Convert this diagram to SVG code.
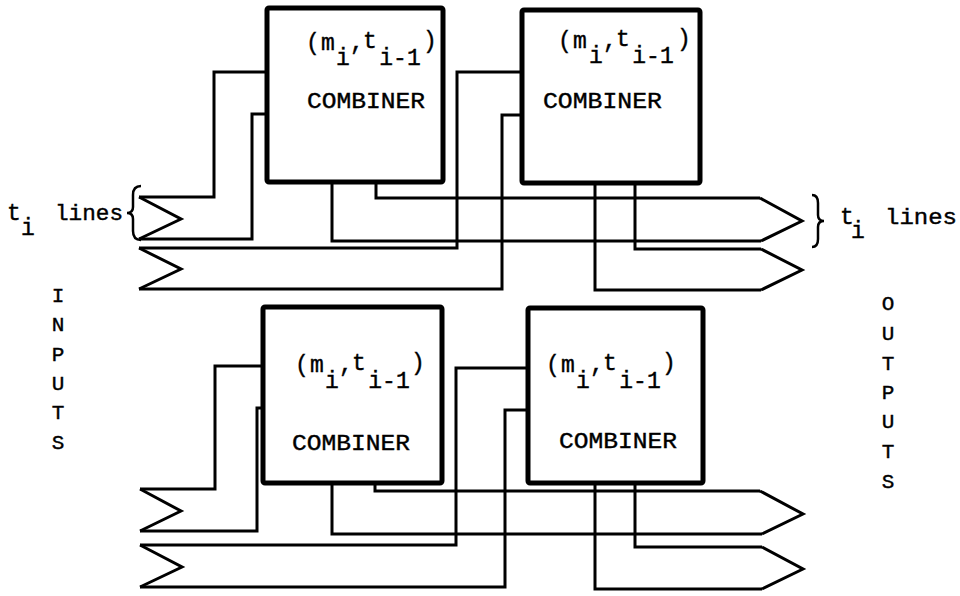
<svg xmlns="http://www.w3.org/2000/svg" width="960" height="596" viewBox="0 0 960 596">
<style>
.box{fill:#fff;stroke:#000;stroke-width:5;stroke-linejoin:round}
.ln{fill:none;stroke:#000;stroke-width:3;stroke-linejoin:miter}
.br{fill:none;stroke:#000;stroke-width:2.5}
text{font-family:"Liberation Mono","DejaVu Sans Mono",monospace;fill:#000;stroke:#000;stroke-width:0.4}
.lbl{font-size:23px;text-anchor:middle}
.cmb{font-size:22px}
.v{font-size:21px;text-anchor:middle}
</style>
<rect width="960" height="596" fill="#fff"/>
<g id="connectors">
<path class="ln" d="M139,197 H214 V72 H267"/>
<path class="ln" d="M139,239 H252 V114 H267"/>
<path class="ln" d="M139,248 H457 V72 H522"/>
<path class="ln" d="M139,289 H502 V115 H522"/>
<path class="ln" d="M376,182 V198 H760"/>
<path class="ln" d="M332,182 V241 H761"/>
<path class="ln" d="M635,183 V249 H761"/>
<path class="ln" d="M595,183 V290 H761"/>
<path class="ln" d="M140,489 H215 V366 H263"/>
<path class="ln" d="M140,531 H257 V408 H263"/>
<path class="ln" d="M140,545 H456 V368 H528"/>
<path class="ln" d="M140,587 H505 V410 H528"/>
<path class="ln" d="M375,483 V491 H760"/>
<path class="ln" d="M332,483 V534 H762"/>
<path class="ln" d="M635,483 V547 H762"/>
<path class="ln" d="M595,483 V589 H762"/>
</g>
<g id="input-bus-1"><path class="ln" d="M139,197 L181,219 L139,239"/></g>
<g id="input-bus-2"><path class="ln" d="M139,248 L181,269 L139,289"/></g>
<g id="input-bus-3"><path class="ln" d="M140,489 L181,511 L140,531"/></g>
<g id="input-bus-4"><path class="ln" d="M140,545 L182,567 L140,587"/></g>
<g id="output-bus-1"><path class="ln" d="M760,198 L802,221 L761,241"/></g>
<g id="output-bus-2"><path class="ln" d="M761,249 L802,270 L761,290"/></g>
<g id="output-bus-3"><path class="ln" d="M760,491 L803,514 L762,534"/></g>
<g id="output-bus-4"><path class="ln" d="M762,547 L803,569 L762,589"/></g>
<g id="combiner-1">
<rect class="box" x="267" y="8" width="176" height="174" rx="2"/>
<text class="lbl"><tspan x="313" y="50">(</tspan><tspan x="328" y="50">m</tspan><tspan x="343" y="65">i</tspan><tspan x="357" y="50">,</tspan><tspan x="370" y="48">t</tspan><tspan x="400" y="65">i-1</tspan><tspan x="430" y="48">)</tspan></text>
<text class="cmb" x="307" y="108" textLength="118" lengthAdjust="spacingAndGlyphs">COMBINER</text>
</g>
<g id="combiner-2">
<rect class="box" x="522" y="10" width="178" height="173" rx="2"/>
<text class="lbl"><tspan x="565" y="48">(</tspan><tspan x="580" y="48">m</tspan><tspan x="596" y="63">i</tspan><tspan x="610" y="48">,</tspan><tspan x="623" y="46">t</tspan><tspan x="653" y="63">i-1</tspan><tspan x="684" y="46">)</tspan></text>
<text class="cmb" x="543" y="108" textLength="119" lengthAdjust="spacingAndGlyphs">COMBINER</text>
</g>
<g id="combiner-3">
<rect class="box" x="263" y="307" width="179" height="176" rx="2"/>
<text class="lbl"><tspan x="302" y="372">(</tspan><tspan x="317" y="372">m</tspan><tspan x="332" y="388">i</tspan><tspan x="346" y="372">,</tspan><tspan x="359" y="370">t</tspan><tspan x="389" y="388">i-1</tspan><tspan x="418" y="370">)</tspan></text>
<text class="cmb" x="292" y="450" textLength="118" lengthAdjust="spacingAndGlyphs">COMBINER</text>
</g>
<g id="combiner-4">
<rect class="box" x="528" y="308" width="175" height="175" rx="2"/>
<text class="lbl"><tspan x="553" y="372">(</tspan><tspan x="568" y="372">m</tspan><tspan x="583" y="388">i</tspan><tspan x="597" y="372">,</tspan><tspan x="610" y="370">t</tspan><tspan x="640" y="388">i-1</tspan><tspan x="669" y="370">)</tspan></text>
<text class="cmb" x="559" y="448" textLength="118" lengthAdjust="spacingAndGlyphs">COMBINER</text>
</g>
<g id="label-ti-lines-in">
<text class="lbl"><tspan x="14" y="220">t</tspan><tspan x="28" y="235">i</tspan></text>
<text class="cmb" x="55" y="220" textLength="68" lengthAdjust="spacingAndGlyphs">lines</text>
<path class="br" d="M141,186 Q133,186 133,195 L133,207 Q133,213 127,213 Q133,213 133,219 L133,231 Q133,240 141,240"/>
</g>
<g id="label-ti-lines-out">
<path class="br" d="M812,195 Q818,195 818,203 L818,215 Q818,221 824,221 Q818,221 818,227 L818,239 Q818,247 812,247"/>
<text class="lbl"><tspan x="847" y="224">t</tspan><tspan x="858" y="238">i</tspan></text>
<text class="cmb" x="885" y="224" textLength="72" lengthAdjust="spacingAndGlyphs">lines</text>
</g>
<g id="label-inputs">
<text class="v"><tspan x="58" y="302">I</tspan><tspan x="58" y="331">N</tspan><tspan x="58" y="361">P</tspan><tspan x="58" y="390">U</tspan><tspan x="58" y="419">T</tspan><tspan x="58" y="449">S</tspan></text>
</g>
<g id="label-outputs">
<text class="v"><tspan x="888" y="310">O</tspan><tspan x="888" y="340">U</tspan><tspan x="888" y="370">T</tspan><tspan x="888" y="399">P</tspan><tspan x="888" y="428">U</tspan><tspan x="888" y="458">T</tspan><tspan x="888" y="488">S</tspan></text>
</g>
</svg>
